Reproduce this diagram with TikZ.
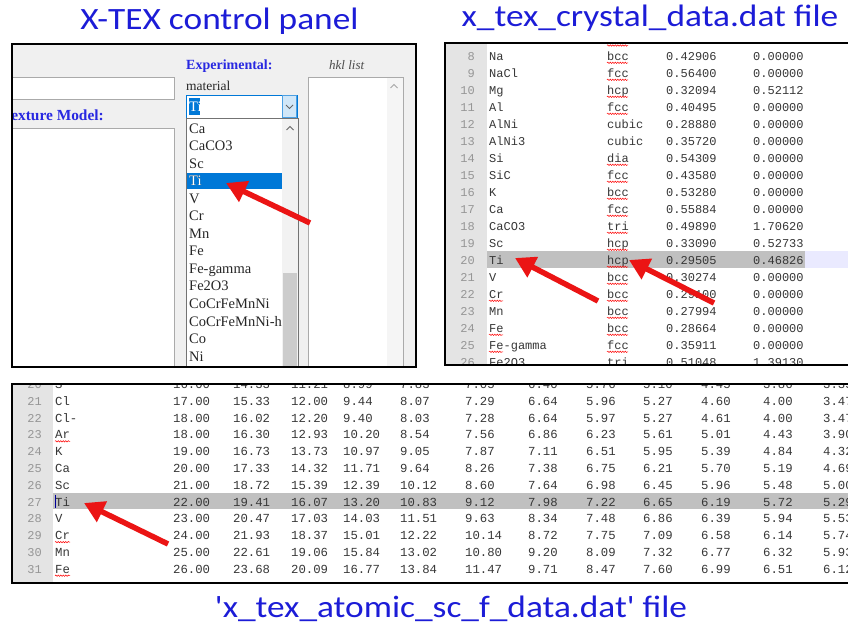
\documentclass[tikz,border=0pt]{standalone}
\usepackage{fontspec}
\setmainfont{Liberation Serif}
\newfontfamily\calib{Carlito}
\newfontfamily\monof{Liberation Mono}
\usetikzlibrary{arrows.meta,decorations.pathmorphing}
\definecolor{ttlblue}{RGB}{28,28,215}
\definecolor{lblblue}{RGB}{40,40,225}
\definecolor{selblue}{RGB}{0,120,215}
\definecolor{panelbg}{RGB}{240,240,240}
\definecolor{gutter}{RGB}{228,228,228}
\definecolor{hlgray}{RGB}{192,192,192}
\definecolor{lavender}{RGB}{234,234,255}
\definecolor{txtgray}{RGB}{55,55,55}
\definecolor{numgray}{RGB}{150,150,150}
\definecolor{arrowred}{RGB}{235,20,20}
\definecolor{boxgray}{RGB}{170,170,170}
\begin{document}
\begin{tikzpicture}[x=1pt,y=-1pt,
  title/.style={font=\calib\fontsize{31}{33}\selectfont, text=ttlblue, inner sep=0, anchor=base},
  mono/.style={font=\monof\fontsize{12}{14}\selectfont, text=txtgray, inner sep=0, anchor=base west},
  monob/.style={font=\monof\fontsize{12.3}{14}\selectfont, text=txtgray, inner sep=0, anchor=base west},
  lnum/.style={font=\monof\fontsize{12}{14}\selectfont, text=numgray, inner sep=0, anchor=base east},
  item/.style={font=\fontsize{14.5}{16}\selectfont, text=black!85, inner sep=0, anchor=base west},
  redarrow/.style={draw=arrowred, line width=5.5pt, -{Triangle[length=20pt,width=22pt]}},
  squig/.style={draw=red, line width=0.5pt, decorate, decoration={snake, amplitude=0.7pt, segment length=2.5pt}},
  panelborder/.style={draw=black, line width=2.5pt},
  chev/.style={draw=black!60, line width=0.8pt}]
\useasboundingbox (0,0) rectangle (848,629);
\fill[white] (0,0) rectangle (848,629);

% ---------- titles ----------
\node[title] (t1) at (219.5,29) {\scalebox{1.14}[1]{X-TEX control panel}};
\node[title] (t2) at (650,27) {\scalebox{1.14}[1]{x\_tex\_crystal\_data.dat file}};
\node[title] (t3) at (451,617) {\scalebox{1.14}[1]{'x\_tex\_atomic\_sc\_f\_data.dat' file}};

% ---------- left panel ----------
\begin{scope}
\clip (12,44) rectangle (416,367);
\fill[panelbg] (12,44) rectangle (416,367);
\draw[boxgray, fill=white] (5,77) rectangle (174,99);
\draw[boxgray, fill=white] (5,128) rectangle (174,380);
\node[font=\bfseries\fontsize{15.4}{17}\selectfont, text=lblblue, inner sep=0, anchor=base east] (tex) at (104,120.5) {Texture Model:};
\node[font=\bfseries\fontsize{14}{16}\selectfont, text=lblblue, inner sep=0, anchor=base west] (exp) at (186,69) {Experimental:};
\node[font=\itshape\fontsize{13}{16}\selectfont, text=black!70, inner sep=0, anchor=base west] (hkl) at (329,69) {hkl list};
\node[font=\fontsize{13.5}{16}\selectfont, text=black!85, inner sep=0, anchor=base west] (mat) at (186,90) {material};
% hkl list box
\draw[boxgray, fill=white] (308,77) rectangle (403,380);
\fill[black!4] (387,78) rectangle (402.5,380);
\draw[chev, black!35] (390.5,88) -- (394,84.5) -- (397.5,88);
% combo box
\draw[selblue, fill=white, line width=0.8pt] (186,95) rectangle (297,118);
\draw[selblue!70, fill=selblue!18, line width=0.6pt] (282,95.5) rectangle (296.5,117.5);
\draw[chev] (286,105) -- (289.5,108.5) -- (293,105);
\fill[selblue] (188.5,98) rectangle (199.5,115);
\node[item, text=white] (cti) at (189,111.5) {Ti};
% dropdown list
\draw[black!55, fill=white, line width=0.7pt] (186,118) rectangle (298,380);
\fill[black!5] (282,119) rectangle (297.5,380);
\fill[black!20] (282.5,273) rectangle (297,380);
\draw[chev] (286.5,130) -- (290,126.5) -- (293.5,130);
\fill[selblue] (187,173) rectangle (282,189);
\begin{scope}
\clip (186,118) rectangle (282,380);
\foreach \nm [count=\i] in {Ca,CaCO3,Sc,Ti,V,Cr,Mn,Fe,Fe-gamma,Fe2O3,CoCrFeMnNi,CoCrFeMnNi-h,Co,Ni}
  \node[item] (li\i) at (189,{133+(\i-1)*17.55}) {\nm};
\end{scope}
\node[item, text=white] (liTi) at (189,185.6) {Ti};
\end{scope}
\draw[panelborder] (12,44) rectangle (416,367);

% ---------- right panel ----------
\begin{scope}
\clip (445,43) rectangle (850,365);
\fill[white] (445,43) rectangle (850,365);
\fill[gutter] (445,43) rectangle (487,365);
\fill[hlgray] (487,251) rectangle (805,268);
\fill[lavender] (805,251) rectangle (850,268);
\foreach \n/\nm/\st/\a/\c in {8/Na/bcc/0.42906/0.00000, 9/NaCl/fcc/0.56400/0.00000, 10/Mg/hcp/0.32094/0.52112, 11/Al/fcc/0.40495/0.00000, 12/AlNi/cubic/0.28880/0.00000, 13/AlNi3/cubic/0.35720/0.00000, 14/Si/dia/0.54309/0.00000, 15/SiC/fcc/0.43580/0.00000, 16/K/bcc/0.53280/0.00000, 17/Ca/fcc/0.55884/0.00000, 18/CaCO3/tri/0.49890/1.70620, 19/Sc/hcp/0.33090/0.52733, 20/Ti/hcp/0.29505/0.46826, 21/V/bcc/0.30274/0.00000, 22/Cr/bcc/0.29100/0.00000, 23/Mn/bcc/0.27994/0.00000, 24/Fe/bcc/0.28664/0.00000, 25/Fe-gamma/fcc/0.35911/0.00000, 26/Fe2O3/tri/0.51048/1.39130}
{
  \pgfmathsetmacro\yy{60.3+(\n-8)*17}
  \node[lnum] (rl\n) at (475,\yy) {\n};
  \node[mono] (rn\n) at (489,\yy) {\nm};
  \node[mono] (rs\n) at (607,\yy) {\st};
  \node[mono] (ra\n) at (666,\yy) {\a};
  \node[mono] (rc\n) at (753,\yy) {\c};
  \ifnum\n=12\else\ifnum\n=13\else
    \draw[squig] (607,{\yy+2.5}) -- (628,{\yy+2.5});
  \fi\fi
}
\draw[squig] (607,45.5) -- (628,45.5);
\draw[squig] (489,{60.3+14*17+2.5}) -- (503,{60.3+14*17+2.5});
\draw[squig] (489,{60.3+16*17+2.5}) -- (503,{60.3+16*17+2.5});
\draw[squig] (489,{60.3+17*17+2.5}) -- (503,{60.3+17*17+2.5});
\draw[squig] (489,{60.3+18*17+2.5}) -- (503,{60.3+18*17+2.5});
\end{scope}
\draw[panelborder] (852,43) -- (445,43) -- (445,365) -- (852,365);

% ---------- bottom panel ----------
\begin{scope}
\clip (12,384) rectangle (850,583);
\fill[white] (12,384) rectangle (850,583);
\fill[gutter] (12,384) rectangle (53,583);
\fill[hlgray] (53,493) rectangle (850,509);
\foreach \n/\nm/\vals in {
 20/S/{16.00,14.33,11.21,8.99,7.83,7.05,6.40,5.76,5.10,4.45,3.86,3.35},
 21/Cl/{17.00,15.33,12.00,9.44,8.07,7.29,6.64,5.96,5.27,4.60,4.00,3.47},
 22/Cl-/{18.00,16.02,12.20,9.40,8.03,7.28,6.64,5.97,5.27,4.61,4.00,3.47},
 23/Ar/{18.00,16.30,12.93,10.20,8.54,7.56,6.86,6.23,5.61,5.01,4.43,3.90},
 24/K/{19.00,16.73,13.73,10.97,9.05,7.87,7.11,6.51,5.95,5.39,4.84,4.32},
 25/Ca/{20.00,17.33,14.32,11.71,9.64,8.26,7.38,6.75,6.21,5.70,5.19,4.69},
 26/Sc/{21.00,18.72,15.39,12.39,10.12,8.60,7.64,6.98,6.45,5.96,5.48,5.00},
 27/Ti/{22.00,19.41,16.07,13.20,10.83,9.12,7.98,7.22,6.65,6.19,5.72,5.29},
 28/V/{23.00,20.47,17.03,14.03,11.51,9.63,8.34,7.48,6.86,6.39,5.94,5.53},
 29/Cr/{24.00,21.93,18.37,15.01,12.22,10.14,8.72,7.75,7.09,6.58,6.14,5.74},
 30/Mn/{25.00,22.61,19.06,15.84,13.02,10.80,9.20,8.09,7.32,6.77,6.32,5.93},
 31/Fe/{26.00,23.68,20.09,16.77,13.84,11.47,9.71,8.47,7.60,6.99,6.51,6.12}}
{
  \pgfmathsetmacro\yy{405.2+(\n-21)*16.8}
  \node[lnum] (bl\n) at (42,\yy) {\n};
  \node[monob] (bn\n) at (55,\yy) {\nm};
  \foreach \v [count=\i] in \vals {
    \pgfmathsetmacro\xx{{173,233,291,343,400,465,528,586,643,701,763,823}[\i-1]}
    \node[monob] (bv\n-\i) at (\xx,\yy) {\v};
  }
}
\draw[squig] (55,{405.2+2*16.8+2.5}) -- (70,{405.2+2*16.8+2.5});
\draw[squig] (55,{405.2+8*16.8+2.5}) -- (70,{405.2+8*16.8+2.5});
\draw[squig] (55,{405.2+10*16.8+2.5}) -- (70,{405.2+10*16.8+2.5});
\draw[blue!60!black, line width=0.6pt] (55.3,494.5) -- (55.3,507.5);
\end{scope}
\draw[panelborder] (852,384) -- (12,384) -- (12,583) -- (852,583);

% ---------- red arrows ----------
\coordinate (a1s) at (310,223);
\coordinate (a1e) at (226,183);
\coordinate (a2s) at (598,301);
\coordinate (a2e) at (515,258);
\coordinate (a3s) at (714,303);
\coordinate (a3e) at (629,260);
\coordinate (a4s) at (168,544);
\coordinate (a4e) at (84,503);
\draw[redarrow] (a1s) -- (a1e);
\draw[redarrow] (a2s) -- (a2e);
\draw[redarrow] (a3s) -- (a3e);
\draw[redarrow] (a4s) -- (a4e);
\end{tikzpicture}
\end{document}
